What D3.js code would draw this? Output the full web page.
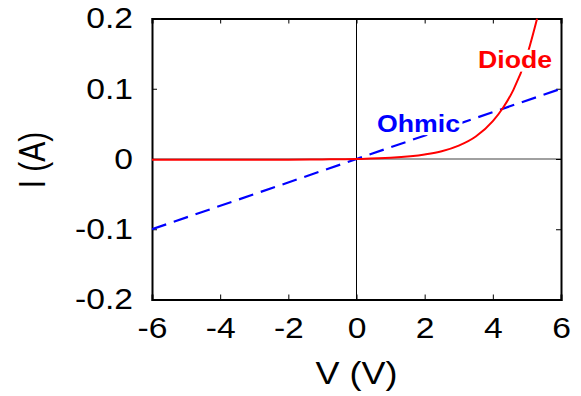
<!DOCTYPE html>
<html>
<head>
<meta charset="utf-8">
<script src="https://cdn.jsdelivr.net/npm/d3@7"></script>
<style>
  body { margin: 0; background: #fff; }
  svg { display: block; }
  text { font-family: "Liberation Sans", Arial, sans-serif; }
</style>
</head>
<body>
<div id="chart"></div>
<script>
// values
const xTicks = [-6, -4, -2, 0, 2, 4, 6];
const yTicks = [-0.2, -0.1, 0, 0.1, 0.2];
const ohmicV = [-6, 6];
const ohmicI = [-0.1, 0.1];
const diodeV = [-6, -4, -2, -1, 0, 1, 2, 2.5, 3, 3.5, 4, 4.3, 4.6, 5, 5.3];
const diodeI = [-0.001, -0.001, -0.0009, -0.0006, 0, 0.0017, 0.0064, 0.011, 0.019, 0.032, 0.054, 0.073, 0.098, 0.147, 0.2];

const width = 581, height = 396;
const margin = { top: 18.5, right: 20, bottom: 96.5, left: 152 };
const stretch = 1.16; // text in the picture is drawn a bit wide

const svg = d3.select('#chart')
  .append('svg')
  .attr('width', width)
  .attr('height', height);

const x = d3.scaleLinear().domain([-6, 6]).range([margin.left, width - margin.right]);
const y = d3.scaleLinear().domain([-0.2, 0.2]).range([height - margin.bottom, margin.top]);

svg.append('defs').append('clipPath').attr('id', 'clip')
  .append('rect')
  .attr('x', x(-6)).attr('y', y(0.2))
  .attr('width', x(6) - x(-6)).attr('height', y(-0.2) - y(0.2));

// zero lines
svg.append('line')
  .attr('x1', x(-6)).attr('x2', x(6))
  .attr('y1', y(0)).attr('y2', y(0))
  .attr('stroke', '#808080').attr('stroke-width', 1.5);
svg.append('line')
  .attr('x1', x(0)).attr('x2', x(0))
  .attr('y1', y(-0.2)).attr('y2', y(0.2))
  .attr('stroke', '#000').attr('stroke-width', 1);

// axes with inward ticks on all four sides
const fmt = d => d === 0 ? '0' : d3.format('.1f')(d).replace('−', '-');
const axisB = d3.axisBottom(x).tickValues(xTicks).tickSize(-5).tickPadding(17.5).tickFormat(d => String(d));
const axisT = d3.axisTop(x).tickValues(xTicks).tickSize(-5).tickFormat('');
const axisL = d3.axisLeft(y).tickValues(yTicks).tickSize(-5).tickPadding(19).tickFormat(fmt);
const axisR = d3.axisRight(y).tickValues(yTicks).tickSize(-5).tickFormat('');

function style(g) {
  g.select('.domain').attr('stroke', '#000').attr('stroke-width', 2);
  g.selectAll('.tick line').attr('stroke', '#000').attr('stroke-width', 1);
  g.selectAll('.tick text')
    .attr('fill', '#000')
    .style('font-size', '29px')
    .each(function () {
      const t = d3.select(this);
      const tx = +t.attr('x') || 0, ty = +t.attr('y') || 0;
      t.attr('x', 0).attr('y', 0)
        .attr('transform', `translate(${tx},${ty}) scale(${stretch},1)`);
    });
}

svg.append('g').attr('transform', `translate(0,${y(-0.2)})`).call(axisB).call(style);
svg.append('g').attr('transform', `translate(0,${y(0.2)})`).call(axisT).call(style);
svg.append('g').attr('transform', `translate(${x(-6)},0)`).call(axisL).call(style);
svg.append('g').attr('transform', `translate(${x(6)},0)`).call(axisR).call(style);

// series
const plot = svg.append('g').attr('clip-path', 'url(#clip)');

const ohmic = ohmicV.map((v, i) => [v, ohmicI[i]]);
const diode = diodeV.map((v, i) => [v, diodeI[i]]);

plot.append('path')
  .datum(ohmic)
  .attr('d', d3.line().x(d => x(d[0])).y(d => y(d[1])))
  .attr('fill', 'none')
  .attr('stroke', '#0000ff')
  .attr('stroke-width', 2.2)
  .attr('stroke-dasharray', '15,8');

plot.append('path')
  .datum(diode)
  .attr('d', d3.line().curve(d3.curveMonotoneX).x(d => x(d[0])).y(d => y(d[1])))
  .attr('fill', 'none')
  .attr('stroke', '#ff0000')
  .attr('stroke-width', 2);

// labels, each on a white box that hides the line under it
function label(text, tx, ty, color) {
  const g = svg.append('g').attr('transform', `translate(${tx},${ty}) scale(${stretch},1)`);
  const bg = g.append('rect').attr('fill', '#fff');
  const t = g.append('text')
    .attr('fill', color)
    .style('font-size', '23px').style('font-weight', 'bold')
    .text(text);
  const b = t.node().getBBox();
  bg.attr('x', b.x - 2).attr('y', b.y + 3)
    .attr('width', b.width + 4).attr('height', b.height - 4);
}

label('Diode', 478, 68, '#ff0000');
label('Ohmic', 377, 131.5, '#0000ff');

// axis titles
svg.append('text')
  .attr('transform', `translate(${x(0)},384) scale(${stretch},1)`)
  .attr('text-anchor', 'middle')
  .style('font-size', '31px')
  .text('V (V)');

svg.append('text')
  .attr('transform', `translate(45,160) scale(1.2,1) rotate(-90)`)
  .attr('text-anchor', 'middle')
  .style('font-size', '30px')
  .text('I (A)');
</script>
</body>
</html>
